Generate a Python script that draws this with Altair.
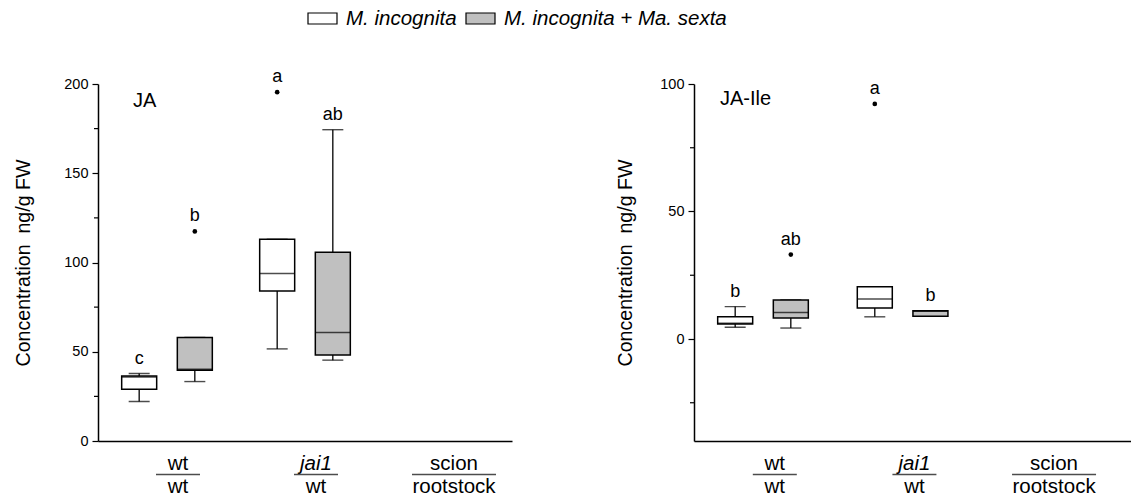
import altair as alt
import pandas as pd

# ---------------- data ----------------
groups = ["wt/wt", "jai1/wt", "scion/rootstock"]
label_num = ["wt", "jai1", "scion"]
label_den = ["wt", "wt", "rootstock"]
treatments = ["M. incognita", "M. incognita + Ma. sexta"]

box_group = ["wt/wt", "wt/wt", "jai1/wt", "jai1/wt"]
box_treat = [treatments[0], treatments[1], treatments[0], treatments[1]]

ja_lo = [22.1, 33.3, 51.6, 45.3]
ja_q1 = [29.0, 39.7, 84.0, 48.2]
ja_med = [35.8, 40.2, 93.9, 60.8]
ja_q3 = [36.4, 58.0, 113.0, 105.8]
ja_hi = [37.8, 58.0, 113.0, 174.4]
ja_out = [None, 117.4, 195.4, None]
ja_letters = ["c", "b", "a", "ab"]

ile_lo = [4.6, 4.3, 8.7, 8.9]
ile_q1 = [5.9, 8.2, 12.2, 8.9]
ile_med = [6.2, 10.4, 15.7, 10.9]
ile_q3 = [8.7, 15.3, 20.5, 11.1]
ile_hi = [12.7, 15.3, 20.5, 11.1]
ile_out = [None, 33.1, 92.2, None]
ile_letters = ["b", "ab", "a", "b"]

FONT = "Liberation Sans"
GRAY = "#c0c0c0"
H = 357
YTITLE = "Concentration\u00a0 ng/g FW"


def panel(name, lo, q1, med, q3, hi, out, letters, ydomain, ymajor,
          width, pad_outer, title_pad, name_x, name_y):
    df = pd.DataFrame({
        "group": box_group, "treat": box_treat,
        "lo": lo, "q1": q1, "med": med, "q3": q3, "hi": hi,
        "out": out, "letter": letters,
    })
    df["top"] = [max(h, o) if o is not None else h for h, o in zip(hi, out)]
    lab = pd.DataFrame({"group": groups, "num": label_num, "den": label_den})
    step = (ymajor[1] - ymajor[0]) / 2
    minor = pd.DataFrame({"v": [v + step for v in ymajor[:-1]] +
                          ([ymajor[0] - step] if ymajor[0] - step >= ydomain[0] else [])})

    xenc = alt.X("group:N", scale=alt.Scale(domain=groups, paddingInner=0,
                                            paddingOuter=pad_outer, align=0),
                 axis=alt.Axis(labels=False, ticks=False, title=None, grid=False,
                               domainColor="black", domainWidth=1.5))
    xoff = alt.XOffset("treat:N", scale=alt.Scale(domain=treatments,
                                                  paddingOuter=0.24, paddingInner=0))
    yscale = alt.Scale(domain=ydomain, nice=False, zero=False)
    yaxis = alt.Axis(values=ymajor, format="d", title=YTITLE, grid=False,
                     domainColor="black", domainWidth=1.5,
                     tickColor="black", tickSize=6, tickWidth=1.2,
                     labelFontSize=14.5, labelColor="black", labelPadding=4,
                     titleFontSize=19.6, titleFontWeight="normal",
                     titleColor="black", titlePadding=title_pad)

    def Y(f):
        return alt.Y(f, scale=yscale, axis=yaxis)

    base = alt.Chart(df)
    w_lo = base.mark_rule(color="black", strokeWidth=1.3).encode(
        x=xenc, xOffset=xoff, y=Y("lo:Q"), y2="q1:Q")
    w_hi = base.mark_rule(color="black", strokeWidth=1.3).encode(
        x=xenc, xOffset=xoff, y=Y("q3:Q"), y2="hi:Q")
    cap_lo = base.mark_tick(color="black", size=21, thickness=1.4).encode(
        x=xenc, xOffset=xoff, y=Y("lo:Q"))
    cap_hi = base.mark_tick(color="black", size=21, thickness=1.4).encode(
        x=xenc, xOffset=xoff, y=Y("hi:Q"))
    box = base.mark_bar(size=35, stroke="black", strokeWidth=1.5).encode(
        x=xenc, xOffset=xoff, y=Y("q1:Q"), y2="q3:Q",
        fill=alt.Fill("treat:N",
                      scale=alt.Scale(domain=treatments, range=["white", GRAY]),
                      legend=alt.Legend(
                          orient="none", legendX=209, legendY=-81,
                          direction="horizontal", title=None, padding=0,
                          symbolType="M-1,-0.38H1V0.38H-1Z", symbolSize=841,
                          symbolStrokeColor="black", symbolStrokeWidth=1.2,
                          symbolOpacity=1,
                          labelFont=FONT, labelFontSize=20.5, labelFontStyle="italic",
                          labelColor="black", labelOffset=8, columnPadding=6,
                          labelLimit=400)))
    median = base.mark_tick(color="black", size=35, thickness=1.5).encode(
        x=xenc, xOffset=xoff, y=Y("med:Q"))
    pts = base.mark_circle(color="black", size=22, opacity=1).encode(
        x=xenc, xOffset=xoff, y=Y("out:Q"))
    letters_l = base.mark_text(fontSize=18, dy=-15, baseline="middle",
                               color="black", font=FONT).encode(
        x=xenc, xOffset=xoff, y=Y("top:Q"), text="letter:N")

    minor_l = alt.Chart(minor).mark_rule(color="black", strokeWidth=1.2).encode(
        y=Y("v:Q"), x=alt.value(-4), x2=alt.value(0))

    lb = alt.Chart(lab)
    num_rom = lb.transform_filter("datum.num != 'jai1'").mark_text(
        fontSize=20.5, baseline="alphabetic", dx=11, color="black", font=FONT).encode(
        x=xenc, y=alt.value(H + 29), text="num:N")
    num_it = lb.transform_filter("datum.num == 'jai1'").mark_text(
        fontSize=20.5, baseline="alphabetic", dx=11, fontStyle="italic",
        color="black", font=FONT).encode(
        x=xenc, y=alt.value(H + 29), text="num:N")
    den = lb.mark_text(fontSize=20.5, baseline="alphabetic", dx=11,
                       color="black", font=FONT).encode(
        x=xenc, y=alt.value(H + 52), text="den:N")
    frac = lb.transform_calculate(
        L="max(length(datum.num), length(datum.den)) > 4 ? 84 : 44").mark_tick(
        color="black", thickness=1.3, orient="horizontal", xOffset=11).encode(
        x=xenc, y=alt.value(H + 33.5), size=alt.Size("L:Q", scale=None, legend=None))

    name_l = alt.Chart(pd.DataFrame({"t": [name]})).mark_text(
        fontSize=20, align="left", baseline="middle", color="black", font=FONT).encode(
        x=alt.value(name_x), y=alt.value(name_y), text="t:N")

    return alt.layer(w_lo, w_hi, cap_lo, cap_hi, box, median, pts, letters_l,
                     minor_l, num_rom, num_it, den, frac, name_l).properties(
        width=width, height=H)


left = panel("JA", ja_lo, ja_q1, ja_med, ja_q3, ja_hi, ja_out, ja_letters,
             [0, 200], [0, 50, 100, 150, 200], 414, 0, 30, 35, 17)
right = panel("JA-Ile", ile_lo, ile_q1, ile_med, ile_q3, ile_hi, ile_out, ile_letters,
              [-40, 100], [0, 50, 100], 437, 0.065, 24, 26, 15)

chart = alt.hconcat(left, right, spacing=103).properties(
    padding={"left": 13, "top": 3, "right": 0, "bottom": 0}
).configure(font=FONT).configure_view(stroke=None)

chart.save("out.html", embed_options={"renderer": "svg", "actions": False})
